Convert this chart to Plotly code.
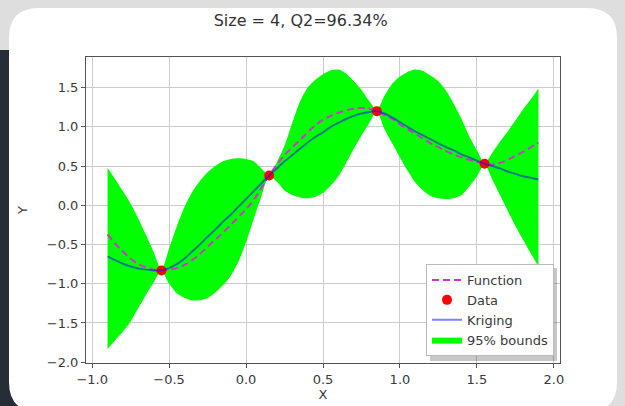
import plotly.graph_objects as go

# ---------------- data ----------------
x_grid = [-0.90, -0.85, -0.80, -0.75, -0.70, -0.65, -0.60, -0.55, -0.50, -0.45,
          -0.40, -0.35, -0.30, -0.25, -0.20, -0.15, -0.10, -0.05, 0.00, 0.05,
          0.10, 0.15, 0.20, 0.25, 0.30, 0.35, 0.40, 0.45, 0.50, 0.55,
          0.60, 0.65, 0.70, 0.75, 0.80, 0.85, 0.90, 0.95, 1.00, 1.05,
          1.10, 1.15, 1.20, 1.25, 1.30, 1.35, 1.40, 1.45, 1.50, 1.55,
          1.60, 1.65, 1.70, 1.75, 1.80, 1.85, 1.90]

function_y = [-0.37, -0.49, -0.59, -0.68, -0.75, -0.79, -0.82, -0.83, -0.82, -0.80,
              -0.76, -0.70, -0.62, -0.53, -0.44, -0.35, -0.25, -0.15, -0.05, 0.07,
              0.22, 0.38, 0.52, 0.64, 0.74, 0.83, 0.93, 1.02, 1.09, 1.14,
              1.18, 1.21, 1.23, 1.24, 1.23, 1.20, 1.15, 1.10, 1.03, 0.97,
              0.91, 0.85, 0.79, 0.74, 0.69, 0.65, 0.61, 0.58, 0.55, 0.53,
              0.52, 0.54, 0.58, 0.63, 0.68, 0.74, 0.80]

kriging_y = [-0.65, -0.70, -0.745, -0.78, -0.805, -0.82, -0.83, -0.83, -0.80, -0.75,
             -0.68, -0.59, -0.50, -0.40, -0.31, -0.21, -0.12, -0.02, 0.08, 0.18,
             0.28, 0.38, 0.47, 0.56, 0.64, 0.72, 0.80, 0.87, 0.93, 1.00,
             1.05, 1.10, 1.14, 1.17, 1.19, 1.20, 1.17, 1.12, 1.06, 1.00,
             0.94, 0.89, 0.84, 0.79, 0.74, 0.70, 0.65, 0.61, 0.57, 0.53,
             0.50, 0.47, 0.43, 0.40, 0.37, 0.35, 0.33]

upper_y = [0.48, 0.33, 0.18, 0.02, -0.17, -0.38, -0.60, -0.83, -0.55, -0.27,
           -0.02, 0.17, 0.31, 0.42, 0.50, 0.56, 0.59, 0.60, 0.59, 0.56,
           0.47, 0.38, 0.55, 0.76, 1.05, 1.32, 1.50, 1.60, 1.67, 1.72,
           1.73, 1.68, 1.58, 1.47, 1.33, 1.21, 1.40, 1.55, 1.64, 1.70,
           1.73, 1.71, 1.65, 1.58, 1.46, 1.29, 1.10, 0.88, 0.70, 0.53,
           0.67, 0.81, 0.94, 1.08, 1.22, 1.35, 1.49]

lower_y = [-1.83, -1.72, -1.61, -1.48, -1.31, -1.14, -0.98, -0.83, -1.00, -1.12,
           -1.18, -1.21, -1.21, -1.18, -1.11, -1.02, -0.90, -0.72, -0.47, -0.17,
           0.12, 0.38, 0.30, 0.19, 0.13, 0.10, 0.09, 0.11, 0.16, 0.25,
           0.37, 0.54, 0.72, 0.89, 1.05, 1.20, 0.97, 0.79, 0.61, 0.44,
           0.29, 0.19, 0.12, 0.09, 0.08, 0.09, 0.13, 0.24, 0.37, 0.53,
           0.33, 0.13, -0.07, -0.26, -0.44, -0.61, -0.78]

data_x = [-0.55, 0.15, 0.85, 1.55]
data_y = [-0.83, 0.38, 1.20, 0.53]

title_text = "Size = 4, Q2=96.34%"

# ---------------- layout geometry ----------------
W, H = 625, 406
ML, MR, MT, MB = 86, 65, 57, 43
PW, PH = W - ML - MR, H - MT - MB


def px(xp):
    return (xp - ML) / PW


def py(yp):
    return (H - MB - yp) / PH


def rounded_rect(x0, y0, x1, y1, r):
    pts = [
        ("M", [(x0 + r, y0)]),
        ("L", [(x1 - r, y0)]),
        ("Q", [(x1, y0), (x1, y0 + r)]),
        ("L", [(x1, y1 - r)]),
        ("Q", [(x1, y1), (x1 - r, y1)]),
        ("L", [(x0 + r, y1)]),
        ("Q", [(x0, y1), (x0, y1 - r)]),
        ("L", [(x0, y0 + r)]),
        ("Q", [(x0, y0), (x0 + r, y0)]),
    ]
    s = ""
    for cmd, ps in pts:
        s += cmd + " " + " ".join(f"{px(a):.5f},{py(b):.5f}" for a, b in ps) + " "
    return s + "Z"


FONT = "DejaVu Sans"
TXT = "#3a3a3a"

fig = go.Figure()

fig.add_trace(go.Scatter(x=x_grid, y=lower_y, mode="lines",
                         line=dict(width=0, color="#00ff00", shape="spline", smoothing=0.6),
                         showlegend=False, hoverinfo="skip"))
fig.add_trace(go.Scatter(x=x_grid, y=upper_y, mode="lines",
                         line=dict(width=0, color="#00ff00", shape="spline", smoothing=0.6),
                         fill="tonexty", fillcolor="#00ff00", name="95% bounds", legendrank=4))
fig.add_trace(go.Scatter(x=x_grid, y=function_y, mode="lines", name="Function",
                         line=dict(color="#d035d0", width=2, dash="7px,4px", shape="spline"),
                         legendrank=1))
fig.add_trace(go.Scatter(x=data_x, y=data_y, mode="markers", name="Data",
                         marker=dict(color="#ff0000", size=10), legendrank=2))
fig.add_trace(go.Scatter(x=x_grid, y=kriging_y, mode="lines", name="Kriging",
                         line=dict(color="rgba(0,0,255,0.5)", width=2, shape="spline"),
                         legendrank=3))

shapes = [
    dict(type="path", xref="paper", yref="paper", layer="below",
         path=rounded_rect(-30, 50, 40, 440, 14), fillcolor="#262d36", line=dict(width=0)),
    dict(type="path", xref="paper", yref="paper", layer="below",
         path=rounded_rect(9, 8, 617, 412, 30), fillcolor="#ffffff", line=dict(width=0)),
    # legend shadow (right and bottom edges)
    dict(type="rect", xref="paper", yref="paper", layer="above",
         x0=px(430), x1=px(557), y0=py(361), y1=py(268),
         fillcolor="rgba(0,0,0,0.22)", line=dict(width=0)),
]

axis_common = dict(
    showgrid=True, gridcolor="#cccccc", gridwidth=1,
    showline=True, linecolor="#555555", linewidth=1, mirror=True,
    ticks="outside", ticklen=4, tickcolor="#555555",
    tickfont=dict(family=FONT, size=13, color=TXT),
    zeroline=False, dtick=0.5, tickformat=".1f", automargin=False,
)

fig.update_layout(
    width=W, height=H,
    margin=dict(l=ML, r=MR, t=MT, b=MB, pad=0),
    paper_bgcolor="#dedede", plot_bgcolor="rgba(0,0,0,0)",
    title=dict(text=title_text, x=px(314), xanchor="center", y=1 - 20 / H, yanchor="middle",
               font=dict(family=FONT, size=16, color="#333333")),
    xaxis=dict(range=[-1.04, 2.04], title=dict(text="X", standoff=2,
               font=dict(family=FONT, size=13, color=TXT)), **axis_common),
    yaxis=dict(range=[-2.01, 1.89], title=dict(text="Y", standoff=16,
               font=dict(family=FONT, size=13, color=TXT)), **axis_common),
    legend=dict(x=px(554), xanchor="right", y=py(356), yanchor="bottom",
                bgcolor="#ffffff", bordercolor="#bbbbbb", borderwidth=1,
                font=dict(family=FONT, size=13, color=TXT),
                itemwidth=30, traceorder="normal"),
    shapes=shapes,
    showlegend=True,
)

fig.write_html("out.html", config={"displayModeBar": False},
               post_script="document.body.style.margin='0';document.body.style.overflow='hidden';")
